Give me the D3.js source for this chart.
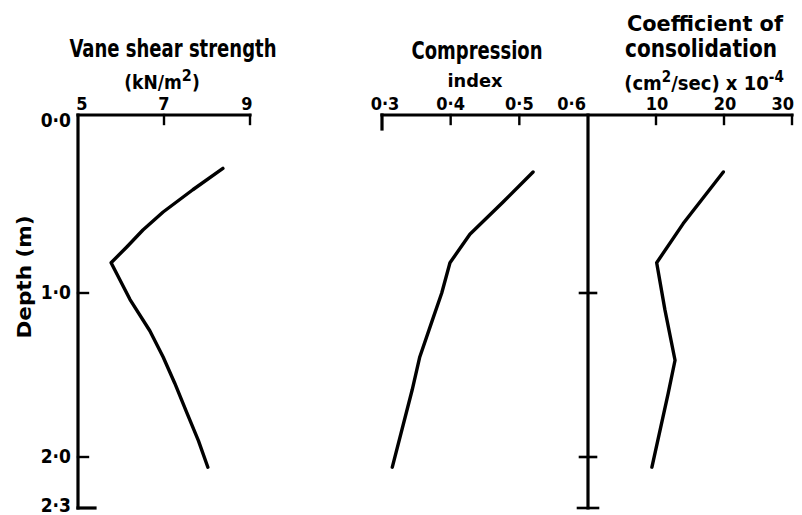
<!DOCTYPE html>
<html>
<head>
<meta charset="utf-8">
<script src="https://cdn.jsdelivr.net/npm/d3@7/dist/d3.min.js"></script>
<style>
  html, body { margin: 0; padding: 0; background: #fff; }
  svg { display: block; }
  text { font-family: "DejaVu Sans Condensed", "DejaVu Sans", sans-serif; font-weight: bold; fill: #000; }
</style>
</head>
<body>
<div id="chart"></div>
<script>
// Soil profile: three property curves plotted against depth (m)

// Vane shear strength (kN/m^2) vs depth
const shearDepth = [0.30, 0.42, 0.545, 0.646, 0.74, 0.83, 1.04, 1.23, 1.39, 1.55, 1.73, 1.90, 2.06];
const shearValue = [8.37, 7.67, 6.98, 6.51, 6.14, 5.77, 6.21, 6.67, 6.98, 7.25, 7.53, 7.80, 8.02];

// Compression index vs depth
const ciDepth = [0.32, 0.49, 0.67, 0.83, 1.00, 1.17, 1.39, 1.59, 2.06];
const ciValue = [0.520, 0.476, 0.428, 0.399, 0.387, 0.373, 0.355, 0.344, 0.315];

// Coefficient of consolidation (cm^2/sec x 10^-4) vs depth
const cvDepth = [0.32, 0.61, 0.83, 1.10, 1.41, 1.61, 2.06];
const cvValue = [19.9, 14.0, 10.1, 11.3, 12.8, 11.8, 9.4];

// Tick values and labels
const depthTicks = [0, 1, 2, 2.3];
const depthTickLabels = ["0·0", "1·0", "2·0", "2·3"];
const shearTicks = [5, 7, 9];
const ciTicks = [0.3, 0.4, 0.5, 0.6];
const ciTickLabels = ["0·3", "0·4", "0·5", "0·6"];
const cvTicks = [10, 20, 30];

const W = 802, H = 515;
const svg = d3.select("#chart").append("svg").attr("width", W).attr("height", H);

// Depth scale (hand-drawn axis, slightly uneven spacing)
const y = d3.scaleLinear().domain([0, 1, 2, 2.3]).range([115, 293, 457, 508]);
const xShear = d3.scaleLinear().domain([5, 9]).range([78, 250]);
const xCI = d3.scaleLinear().domain([0.3, 0.6]).range([382, 588]);
const xCV = d3.scaleLinear().domain([0, 30]).range([588, 792]);

const ink = "#000";
const axisW = 3.2;
const tickFont = 18;

function seg(x1, y1, x2, y2, w) {
  svg.append("line").attr("x1", x1).attr("y1", y1).attr("x2", x2).attr("y2", y2)
    .attr("stroke", ink).attr("stroke-width", w || axisW).attr("stroke-linecap", "square");
}

const yTop = y(0), yBottom = y(2.3);

// ---- Left panel axes ----
seg(xShear(5), yTop, xShear(9), yTop);
seg(xShear(5), yTop, xShear(5), yBottom);
seg(xShear(5), yBottom, xShear(5) + 17, yBottom);
shearTicks.slice(1).forEach(v => seg(xShear(v), yTop, xShear(v), yTop + 9, 2.4));
[1, 2].forEach(d => seg(xShear(5), y(d), xShear(5) + 10, y(d), 2.4));

svg.selectAll(".shearLab").data(shearTicks).join("text")
  .attr("x", d => xShear(d) + (d === 5 ? 4 : d === 9 ? -3 : 0))
  .attr("y", yTop - 5)
  .attr("text-anchor", "middle").attr("font-size", tickFont)
  .text(d => d);

// Depth tick labels
svg.selectAll(".depthLab").data(depthTicks).join("text")
  .attr("x", 71).attr("y", d => y(d) + (d === 0 ? 12 : d === 2.3 ? 4 : 6))
  .attr("text-anchor", "end").attr("font-size", 19)
  .text((d, i) => depthTickLabels[i]);

// Depth axis title
svg.append("text")
  .attr("transform", "translate(31,277) rotate(-90)")
  .attr("text-anchor", "middle").attr("font-size", 19)
  .attr("textLength", 123).attr("lengthAdjust", "spacingAndGlyphs")
  .text("Depth  (m)");

// ---- Middle and right panel axes ----
seg(xCI(0.3), yTop, xCV(30), yTop);
seg(xCI(0.3), yTop, xCI(0.3), yTop + 14);
seg(xCI(0.6), yTop, xCI(0.6), yBottom);
seg(xCI(0.6) - 10, yBottom, xCI(0.6) + 10, yBottom, 2.6);
[1, 2].forEach(d => seg(xCI(0.6) - 8, y(d), xCI(0.6) + 8, y(d), 2.6));
[0.4, 0.5].forEach(v => seg(xCI(v), yTop, xCI(v), yTop + 9, 2.4));
cvTicks.forEach(v => seg(xCV(v), yTop, xCV(v), yTop + 9, 2.4));

svg.selectAll(".ciLab").data(ciTicks).join("text")
  .attr("x", d => d === 0.6 ? xCI(d) - 2 : xCI(d) + (d === 0.3 ? 3 : 0))
  .attr("y", yTop - 5)
  .attr("text-anchor", d => d === 0.6 ? "end" : "middle").attr("font-size", tickFont)
  .text((d, i) => ciTickLabels[i]);

svg.selectAll(".cvLab").data(cvTicks).join("text")
  .attr("x", d => d === 30 ? xCV(d) + 2 : xCV(d) + 1)
  .attr("y", yTop - 5)
  .attr("text-anchor", d => d === 30 ? "end" : "middle").attr("font-size", tickFont)
  .text(d => d);

// ---- Panel titles ----
svg.append("text").attr("x", 173).attr("y", 57).attr("text-anchor", "middle")
  .attr("font-size", 25).attr("textLength", 207).attr("lengthAdjust", "spacingAndGlyphs")
  .text("Vane shear strength");
const t1 = svg.append("text").attr("x", 162).attr("y", 89).attr("text-anchor", "middle").attr("font-size", 19);
t1.append("tspan").text("(kN/m");
t1.append("tspan").attr("dy", -8).attr("font-size", 16).text("2");
t1.append("tspan").attr("dy", 8).text(")");

svg.append("text").attr("x", 477).attr("y", 59).attr("text-anchor", "middle")
  .attr("font-size", 25).attr("textLength", 131).attr("lengthAdjust", "spacingAndGlyphs")
  .text("Compression");
svg.append("text").attr("x", 475).attr("y", 87).attr("text-anchor", "middle")
  .attr("font-size", 18).attr("textLength", 55).attr("lengthAdjust", "spacingAndGlyphs")
  .text("index");

svg.append("text").attr("x", 705).attr("y", 31).attr("text-anchor", "middle")
  .attr("font-size", 22).attr("textLength", 156).attr("lengthAdjust", "spacingAndGlyphs")
  .text("Coefficient of");
svg.append("text").attr("x", 701).attr("y", 57).attr("text-anchor", "middle")
  .attr("font-size", 24).attr("textLength", 152).attr("lengthAdjust", "spacingAndGlyphs")
  .text("consolidation");
const t2 = svg.append("text").attr("x", 704).attr("y", 90).attr("text-anchor", "middle").attr("font-size", 20);
t2.append("tspan").text("(cm");
t2.append("tspan").attr("dy", -8).attr("font-size", 15).text("2");
t2.append("tspan").attr("dy", 8).text("/sec) x 10");
t2.append("tspan").attr("dy", -8).attr("font-size", 15).text("-4");

// ---- Curves ----
function curve(depths, values, xs) {
  const pts = depths.map((d, i) => [xs(values[i]), y(d)]);
  svg.append("path")
    .attr("d", d3.line()(pts))
    .attr("fill", "none").attr("stroke", ink).attr("stroke-width", 3.4)
    .attr("stroke-linejoin", "round").attr("stroke-linecap", "round");
}
curve(shearDepth, shearValue, xShear);
curve(ciDepth, ciValue, xCI);
curve(cvDepth, cvValue, xCV);
</script>
</body>
</html>
